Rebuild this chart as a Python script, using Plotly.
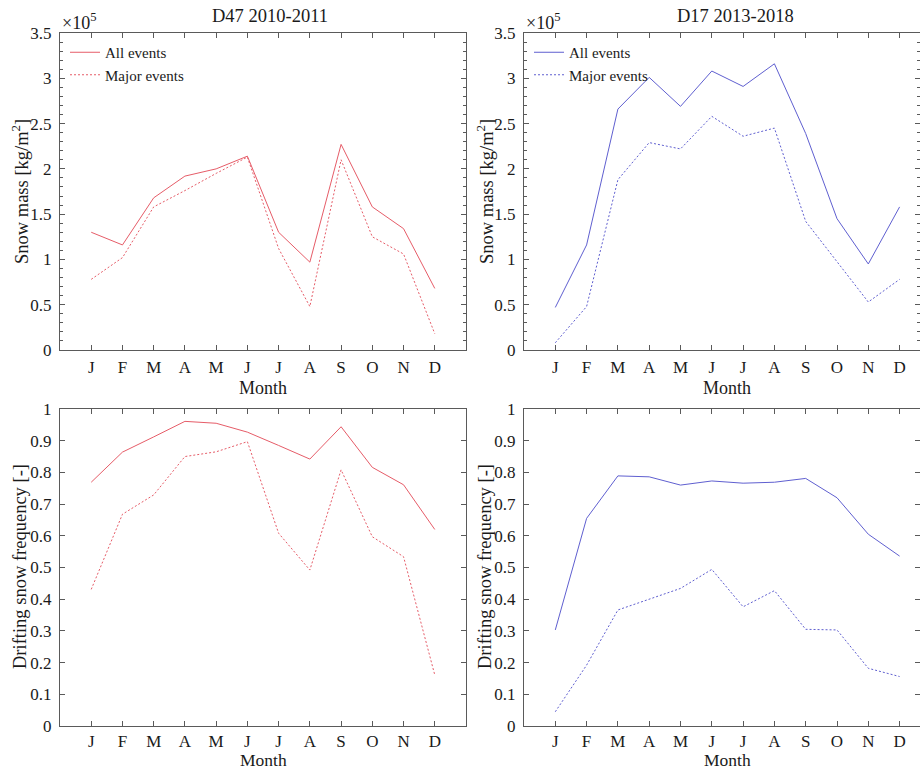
import plotly.graph_objects as go

months = ["J", "F", "M", "A", "M", "J", "J", "A", "S", "O", "N", "D"]
month_pos = list(range(1, 13))

# Snow mass [kg/m^2]
d47_mass_all = [130000, 116000, 168000, 192000, 200000, 214000, 130000, 97000, 227000, 158000, 134000, 68000]
d47_mass_major = [78000, 102000, 158000, 176000, 195000, 213000, 112000, 48000, 210000, 125000, 106000, 18000]
d17_mass_all = [47000, 116000, 266000, 301000, 269000, 308000, 291000, 316000, 239000, 145000, 95000, 158000]
d17_mass_major = [8000, 48000, 188000, 229000, 222000, 258000, 236000, 245000, 142000, 98000, 53000, 78000]

# Drifting snow frequency [-]
d47_freq_all = [0.769, 0.864, 0.912, 0.961, 0.955, 0.927, 0.885, 0.842, 0.944, 0.816, 0.761, 0.620]
d47_freq_major = [0.431, 0.668, 0.729, 0.850, 0.865, 0.897, 0.608, 0.492, 0.808, 0.597, 0.534, 0.161]
d17_freq_all = [0.303, 0.655, 0.789, 0.786, 0.760, 0.773, 0.766, 0.769, 0.781, 0.720, 0.605, 0.536]
d17_freq_major = [0.045, 0.192, 0.366, 0.400, 0.434, 0.494, 0.376, 0.427, 0.305, 0.303, 0.182, 0.156]

mass_tickvals = [0, 50000, 100000, 150000, 200000, 250000, 300000, 350000]
mass_ticktext = ["0", "0.5", "1", "1.5", "2", "2.5", "3", "3.5"]
freq_tickvals = [0, 0.1, 0.2, 0.3, 0.4, 0.5, 0.6, 0.7, 0.8, 0.9, 1.0]
freq_ticktext = ["0", "0.1", "0.2", "0.3", "0.4", "0.5", "0.6", "0.7", "0.8", "0.9", "1"]

RED = "rgb(230,92,104)"
BLUE = "rgb(95,95,208)"
FONT = "Liberation Serif"
AXC = "#5a5a5a"
TXT = "#1a1a1a"
DOT = "2px,2px"

fig = go.Figure()

def add(x, y, color, dash, name, xa, ya, legend, show):
    fig.add_trace(go.Scatter(x=x, y=y, mode="lines", name=name,
                             line=dict(color=color, width=1, dash=dash),
                             xaxis=xa, yaxis=ya, legend=legend, showlegend=show))

add(month_pos, d47_mass_all, RED, "solid", "All events", "x", "y", "legend", True)
add(month_pos, d47_mass_major, RED, DOT, "Major events", "x", "y", "legend", True)
add(month_pos, d17_mass_all, BLUE, "solid", "All events", "x2", "y2", "legend2", True)
add(month_pos, d17_mass_major, BLUE, DOT, "Major events", "x2", "y2", "legend2", True)
add(month_pos, d47_freq_all, RED, "solid", "All events", "x3", "y3", "legend", False)
add(month_pos, d47_freq_major, RED, DOT, "Major events", "x3", "y3", "legend", False)
add(month_pos, d17_freq_all, BLUE, "solid", "All events", "x4", "y4", "legend2", False)
add(month_pos, d17_freq_major, BLUE, DOT, "Major events", "x4", "y4", "legend2", False)

W, H = 920, 772
xl = [60 / W, 466 / W]
xr = [524 / W, 1.0]
yt = [1 - 350 / H, 1 - 33 / H]
yb = [1 - 726 / H, 1 - 409 / H]

common_x = dict(tickmode="array", tickvals=month_pos, ticktext=months,
                ticks="inside", ticklen=5, tickcolor=AXC, showline=True, linecolor=AXC,
                linewidth=1, mirror="ticks", showgrid=False, zeroline=False,
                automargin=False, ticklabelstandoff=2,
                tickfont=dict(family=FONT, size=17, color=TXT))
common_y = dict(ticks="inside", ticklen=5, tickcolor=AXC, showline=True, linecolor=AXC,
                linewidth=1, mirror="ticks", showgrid=False, zeroline=False,
                automargin=False,
                tickfont=dict(family=FONT, size=17, color=TXT), ticklabelstandoff=4)

def ann(text, x, y, size=18, angle=0, xanchor="center", yanchor="middle"):
    return dict(text=text, x=x / W, y=1 - y / H, xref="paper", yref="paper",
                showarrow=False, textangle=angle, xanchor=xanchor, yanchor=yanchor,
                font=dict(family=FONT, size=size, color=TXT))

fig.update_layout(
    width=W, height=H, margin=dict(l=0, r=0, t=0, b=0),
    paper_bgcolor="white", plot_bgcolor="white",
    font=dict(family=FONT, size=17, color=TXT),
    xaxis=dict(common_x, domain=xl, range=[0, 13], anchor="y"),
    xaxis2=dict(common_x, domain=xr, range=[0, 396 / 31.3], anchor="y2"),
    xaxis3=dict(common_x, domain=xl, range=[0, 13], anchor="y3", ticklabelstandoff=0),
    xaxis4=dict(common_x, domain=xr, range=[0, 396 / 31.3], anchor="y4", ticklabelstandoff=0),
    yaxis=dict(common_y, domain=yt, range=[0, 350000], tickmode="array",
               tickvals=mass_tickvals, ticktext=mass_ticktext, anchor="x",
               minor=dict(dtick=10000, ticks="inside", ticklen=3, tickcolor=AXC)),
    yaxis2=dict(common_y, domain=yt, range=[0, 350000], tickmode="array",
                tickvals=mass_tickvals, ticktext=mass_ticktext, anchor="x2",
                minor=dict(dtick=10000, ticks="inside", ticklen=3, tickcolor=AXC)),
    yaxis3=dict(common_y, domain=yb, range=[0, 1], tickmode="array",
                tickvals=freq_tickvals, ticktext=freq_ticktext, anchor="x3"),
    yaxis4=dict(common_y, domain=yb, range=[0, 1], tickmode="array",
                tickvals=freq_tickvals, ticktext=freq_ticktext, anchor="x4"),
    legend=dict(x=65 / W, y=1 - 36 / H, xanchor="left", yanchor="top",
                bgcolor="rgba(0,0,0,0)", font=dict(family=FONT, size=15, color=TXT),
                tracegroupgap=0, itemwidth=30),
    legend2=dict(x=529 / W, y=1 - 36 / H, xanchor="left", yanchor="top",
                 bgcolor="rgba(0,0,0,0)", font=dict(family=FONT, size=15, color=TXT),
                 tracegroupgap=0, itemwidth=30),
    annotations=[
        ann("D47 2010-2011", 270, 16, 18.5),
        ann("D17 2013-2018", 735, 16, 18.5),
        ann("×10<sup>5</sup>", 60, 35, 18, xanchor="left", yanchor="bottom"),
        ann("×10<sup>5</sup>", 524, 35, 18, xanchor="left", yanchor="bottom"),
        ann("Month", 263, 388, 18),
        ann("Month", 727, 388, 18),
        ann("Month", 263, 772, 17.5, yanchor="bottom"),
        ann("Month", 727, 772, 17.5, yanchor="bottom"),
        ann("Snow mass [kg/m<sup>2</sup>]", 20, 192, 18.5, angle=-90),
        ann("Snow mass [kg/m<sup>2</sup>]", 485, 192, 18.5, angle=-90),
        ann("Drifting snow frequency [-]", 20, 567, 18.5, angle=-90),
        ann("Drifting snow frequency [-]", 485, 567, 18.5, angle=-90),
    ],
)

fig.write_html("out.html")
